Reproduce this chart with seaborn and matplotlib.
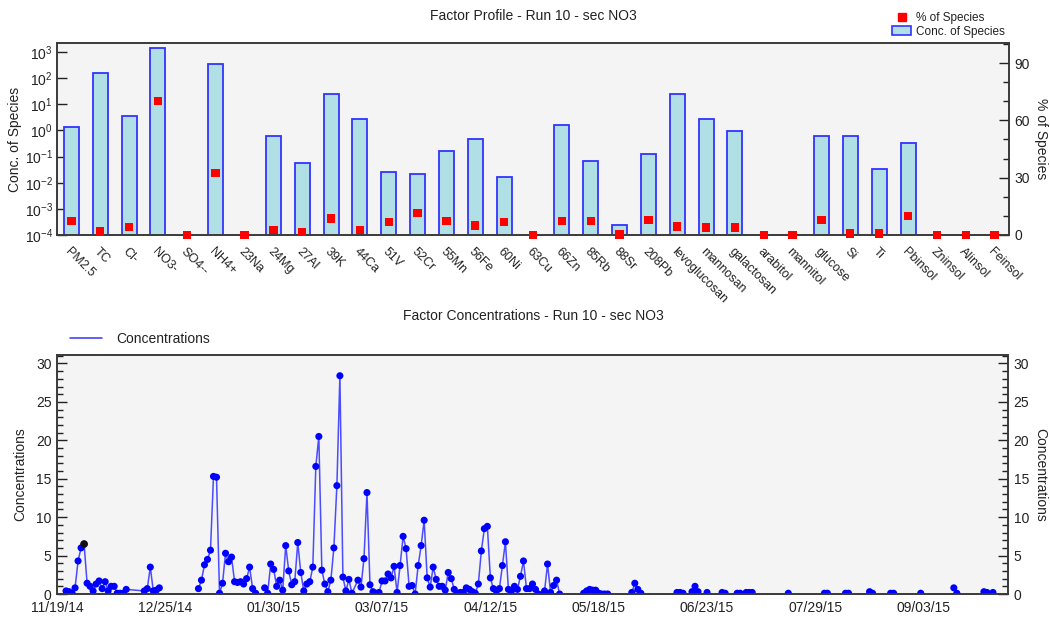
import numpy as np
import pandas as pd
import matplotlib
matplotlib.use("Agg")
import matplotlib.pyplot as plt
import seaborn as sns
from matplotlib.ticker import LogLocator, NullLocator, MultipleLocator
from matplotlib.lines import Line2D
from matplotlib.patches import Patch

# ---------------- data: factor profile ----------------
species = ["PM2.5", "TC", "Cl-", "NO3-", "SO4--", "NH4+", "23Na", "24Mg", "27Al", "39K",
           "44Ca", "51V", "52Cr", "55Mn", "56Fe", "60Ni", "63Cu", "66Zn", "85Rb", "88Sr",
           "208Pb", "levoglucosan", "mannosan", "galactosan", "arabitol", "mannitol",
           "glucose", "Si", "Ti", "Pbinsol", "Zninsol", "Alinsol", "Feinsol"]
conc_of_species = [1.35, 150, 3.5, 1370, None, 350, None, 0.59, 0.058, 24.8,
                   2.7, 0.026, 0.022, 0.16, 0.49, 0.017, None, 1.6, 0.065, 0.00025,
                   0.12, 24, 2.7, 0.98, None, None,
                   0.59, 0.59, 0.032, 0.32, None, None, None]
pct_of_species = [7.3, 1.9, 4.2, 70.1, 0.0, 32.4, 0.0, 2.6, 1.4, 8.6,
                  2.5, 6.8, 11.5, 7.3, 4.9, 6.8, 0.0, 7.3, 7.3, 0.2,
                  8.0, 4.4, 3.9, 3.9, 0.0, 0.0,
                  8.0, 0.7, 0.7, 9.8, 0.0, 0.0, 0.0]

# ---------------- data: factor contributions (daily runs, None = no sample) ----------------
run_starts = ["2014-11-22", "2015-01-05", "2015-01-27", "2015-05-13", "2015-05-29",
              "2015-06-13", "2015-06-18", "2015-06-23", "2015-06-28", "2015-07-03",
              "2015-07-20", "2015-08-01", "2015-08-08", "2015-08-16", "2015-08-23",
              "2015-09-02", "2015-09-13", "2015-09-23"]
run_values = [
    [0.4, 0.3, 0.1, 0.8, 4.3, 6.0, 6.5, 1.4, 1.0, 0.4, 1.3, 1.7, 0.7, 1.6, 0.4, 1.0, 1.0,
     0.1, 0.1, 0.1, 0.6, None, None, None, None, None, 0.4, 0.7, 3.5, 0.4, 0.5, 0.8],
    [0.7, 1.8, 3.8, 4.5, 5.7, 15.3, 15.2, 0.1, 1.4, 5.3, 4.2, 4.8, 1.6, 1.5, 1.6, 1.3,
     2.0, 3.5, 0.7, 0.1],
    [0.8, 0.1, 3.9, 3.2, 1.0, 1.8, 0.5, 6.3, 3.0, 1.2, 1.6, 6.7, 2.8, 0.4, 1.3, 1.6, 3.5,
     16.6, 20.5, 3.1, 1.3, 0.3, 1.8, 6.0, 14.1, 28.4, 2.2, 0.4, 1.9, 0.1, None,
     1.8, 0.9, 4.6, 13.2, 1.2, 0.3, 0.1, 0.2, 1.7, 1.7, 2.6, 2.1, 3.6, 0.2, 3.7, 7.5, 5.9,
     1.0, 1.1, 0.0, 3.7, 6.3, 9.6, 2.1, 0.9, 3.5, 1.9, 1.0, 1.0, 0.5, 2.8, 2.0, 0.6, 0.1,
     0.2, 0.2, 0.8, 0.6, 0.3, 0.1, 1.3, 5.6, 8.5, 8.8, 2.1, 0.7, 0.4, 0.7, 3.7, 6.8, 0.6,
     0.4, 1.0, 0.6, 2.3, 4.3, 0.7, 0.7, 1.3, 0.6, 0.0, None, 0.4, 3.9, 0.2, 1.1, 1.8, 0.0],
    [0.1, 0.4, 0.6, 0.5, 0.5, 0.1, 0.0, 0.0, 0.0],
    [0.2, 1.4, 0.6, 0.1],
    [0.2, 0.2, 0.1],
    [0.3, 1.0, 0.3],
    [0.2],
    [0.2, 0.1],
    [0.1, 0.1, None, 0.2, 0.2, 0.2],
    [0.1],
    [0.1, 0.1],
    [0.1, 0.1],
    [0.3, 0.1],
    [0.1, 0.1],
    [0.1],
    [0.8, 0.1],
    [0.3, 0.2, None, 0.2],
]
highlight_date = "2014-11-28"
highlight_value = 6.5
tick_dates = ["2014-11-19", "2014-12-25", "2015-01-30", "2015-03-07", "2015-04-12",
              "2015-05-18", "2015-06-23", "2015-07-29", "2015-09-03"]
x_range = ["2014-11-19", "2015-10-01"]

# ---------------- build tables ----------------
prof = pd.DataFrame({"species": species,
                     "conc": pd.to_numeric(pd.Series(conc_of_species, dtype="object"), errors="coerce"),
                     "pct": pct_of_species})
rows = []
for i, (start, vals) in enumerate(zip(run_starts, run_values)):
    dates = pd.date_range(start, periods=len(vals), freq="D")
    for d, v in zip(dates, vals):
        if v is not None:
            rows.append({"date": d, "value": v, "run": i})
ts = pd.DataFrame(rows)

# ---------------- style ----------------
sns.set_theme(style="white")
plt.rcParams["font.family"] = ["Liberation Sans", "DejaVu Sans"]
TXT = "#222222"
SPINE = "#3a3a3a"
BG = "#f4f4f4"
BAR_FILL = "#b0dfe5"
BAR_EDGE = "#3333ff"

W, H = 1050, 619
fig = plt.figure(figsize=(W / 100, H / 100), dpi=100)

def box(l, t, r, b):
    return [l / W, 1 - b / H, (r - l) / W, (b - t) / H]

# ---------------- top: factor profile ----------------
ax1 = fig.add_axes(box(57, 43, 1009, 235))
ax1.set_facecolor(BG)
ax1.set_yscale("log")
sns.barplot(data=prof, x="species", y="conc", ax=ax1, color=BAR_FILL, saturation=1,
            edgecolor=BAR_EDGE, linewidth=1.3, width=0.52, errorbar=None)
ax1.set_ylim(1e-4, 2200)
ax1.set_xlim(-0.5, len(species) - 0.5)
ax1.yaxis.set_major_locator(LogLocator(base=10, numticks=12))
ax1.yaxis.set_minor_locator(NullLocator())
ax1.set_xticks(np.arange(len(species)))
ax1.set_xticklabels(species, rotation=-45, ha="left", va="top", rotation_mode="anchor",
                    fontsize=9, color=TXT)
ax1.tick_params(axis="x", direction="inout", length=9, width=1, color="#222222", pad=3)
ax1.tick_params(axis="y", direction="in", length=7, width=1, color="#222222",
                labelsize=10, labelcolor=TXT, left=True, pad=3)
ax1.set_xlabel("")
ax1.set_ylabel("Conc. of Species", fontsize=10, color=TXT, labelpad=2)

ax2 = ax1.twinx()
sns.scatterplot(x=np.arange(len(species)), y=prof["pct"], ax=ax2, marker="s", s=36,
                color="#ff0000", edgecolor="none", linewidth=0, zorder=5, clip_on=False,
                legend=False)
ax2.set_ylim(0, 100.5)
ax2.set_xlim(-0.5, len(species) - 0.5)
ax2.yaxis.set_major_locator(MultipleLocator(30))
ax2.yaxis.set_minor_locator(MultipleLocator(10))
ax2.tick_params(axis="y", which="major", direction="in", length=7, width=1,
                color="#222222", labelsize=10, labelcolor=TXT, right=True, pad=4)
ax2.tick_params(axis="y", which="minor", direction="in", length=4, width=1,
                color="#222222", right=True)
ax2.set_ylabel("% of Species", rotation=270, fontsize=10, color=TXT, labelpad=13)
for a in (ax1, ax2):
    for s in a.spines.values():
        s.set_color(SPINE)
        s.set_linewidth(1.2)

fig.text(533 / W, 1 - 16 / H, "Factor Profile - Run 10 - sec NO3", ha="center",
         va="center", fontsize=10, color=TXT)
h_pct = Line2D([], [], marker="s", color="#ff0000", linestyle="none", markersize=6)
h_conc = Patch(facecolor=BAR_FILL, edgecolor=BAR_EDGE, linewidth=1.2)
fig.legend([h_pct, h_conc], ["% of Species", "Conc. of Species"], loc="upper right",
           bbox_to_anchor=(1012 / W, 1 - 5 / H), frameon=False, fontsize=8.5,
           handlelength=1.6, handleheight=0.8, handletextpad=0.4, labelspacing=0.15,
           borderpad=0.1, labelcolor=TXT)

# ---------------- bottom: factor contributions ----------------
ax3 = fig.add_axes(box(57, 355, 1008, 594))
ax3.set_facecolor(BG)
sns.lineplot(data=ts, x="date", y="value", units="run", estimator=None, ax=ax3,
             color="#4b4bff", linewidth=1.1, legend=False, sort=True)
sns.scatterplot(data=ts, x="date", y="value", ax=ax3, color="#0000ff", s=26,
                edgecolor="none", linewidth=0, zorder=4, legend=False)
sns.scatterplot(x=pd.to_datetime([highlight_date]), y=[highlight_value], ax=ax3,
                color="#111111", s=30, edgecolor="none", zorder=5, legend=False)
ax3.set_xlim(pd.Timestamp(x_range[0]), pd.Timestamp(x_range[1]))
ax3.set_ylim(0, 31.1)
td = pd.to_datetime(tick_dates)
ax3.set_xticks(td)
ax3.set_xticklabels([d.strftime("%m/%d/%y") for d in td], fontsize=10, color=TXT)
ax3.xaxis.set_minor_locator(NullLocator())
ax3.tick_params(axis="x", direction="in", length=7, width=1, color="#444444", pad=5)
ax3.yaxis.set_major_locator(MultipleLocator(5))
ax3.yaxis.set_minor_locator(MultipleLocator(1))
ax3.tick_params(axis="y", which="major", direction="in", length=7, width=1,
                color="#222222", labelsize=10, labelcolor=TXT, left=True, pad=4)
ax3.tick_params(axis="y", which="minor", direction="in", length=4, width=1,
                color="#222222", left=True)
ax3.set_xlabel("")
ax3.set_ylabel("Concentrations", fontsize=10, color=TXT, labelpad=6)

ax4 = ax3.twinx()
ax4.set_ylim(ax3.get_ylim())
ax4.yaxis.set_major_locator(MultipleLocator(5))
ax4.yaxis.set_minor_locator(MultipleLocator(1))
ax4.tick_params(axis="y", which="major", direction="in", length=7, width=1,
                color="#222222", labelsize=10, labelcolor=TXT, right=True, pad=4)
ax4.tick_params(axis="y", which="minor", direction="in", length=4, width=1,
                color="#222222", right=True)
ax4.set_ylabel("Concentrations", rotation=270, fontsize=10, color=TXT, labelpad=13)
for a in (ax3, ax4):
    for s in a.spines.values():
        s.set_color(SPINE)
        s.set_linewidth(1.2)

fig.text(533 / W, 1 - 316 / H, "Factor Concentrations - Run 10 - sec NO3", ha="center",
         va="center", fontsize=10, color=TXT)
fig.legend([Line2D([], [], color="#3333ff", linewidth=1.1)], ["Concentrations"],
           loc="center left", bbox_to_anchor=(62 / W, 1 - 339 / H), frameon=False,
           fontsize=10, handlelength=2.3, handletextpad=1.0, labelcolor=TXT, borderpad=0.1)

fig.savefig("out.png", dpi=100, facecolor="white")
